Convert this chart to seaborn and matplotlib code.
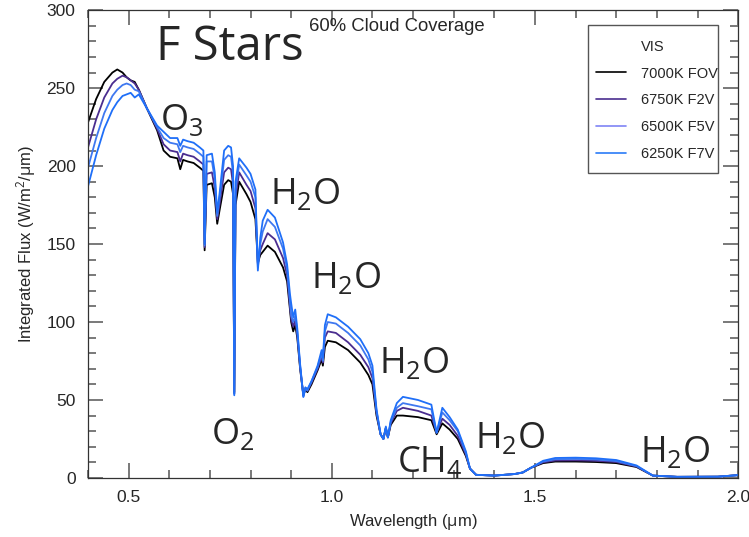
import numpy as np
import pandas as pd
import matplotlib
matplotlib.use("Agg")
import matplotlib.pyplot as plt
from matplotlib.lines import Line2D
from matplotlib.patches import Rectangle
from matplotlib.ticker import MultipleLocator
import seaborn as sns

# ---------------- data ----------------
wavelength = [0.400, 0.420, 0.440, 0.460, 0.472, 0.485, 0.495, 0.505, 0.515, 0.525,
              0.545, 0.570, 0.586, 0.602, 0.620, 0.627, 0.634, 0.645, 0.660, 0.675,
              0.684, 0.687, 0.692, 0.705, 0.712, 0.718, 0.724, 0.735, 0.745, 0.752,
              0.757, 0.760, 0.763, 0.772, 0.790, 0.800, 0.812, 0.818, 0.824, 0.830,
              0.842, 0.860, 0.880, 0.890, 0.897, 0.900, 0.905, 0.910, 0.915, 0.922,
              0.930, 0.935, 0.940, 0.950, 0.965, 0.975, 0.978, 0.983, 0.990, 1.010,
              1.040, 1.070, 1.090, 1.100, 1.110, 1.120, 1.127, 1.133, 1.138, 1.145,
              1.160, 1.175, 1.212, 1.245, 1.258, 1.272, 1.290, 1.310, 1.330, 1.340,
              1.355, 1.400, 1.450, 1.470, 1.490, 1.520, 1.550, 1.600, 1.650, 1.700,
              1.750, 1.790, 1.850, 1.950, 2.000]

flux_7000K = [228, 243, 254, 260, 262, 260, 257, 255, 254, 249,
              237, 223, 210, 206, 205, 198, 204, 203, 202, 199,
              197, 146, 188, 189, 180, 163, 172, 188, 191, 190,
              182, 55, 175, 190, 182, 177, 166, 138, 143, 145,
              149, 145, 135, 126, 108, 100, 94, 98, 90, 70,
              53, 57, 55, 60, 69, 76, 72, 84, 88, 87,
              82, 74, 66, 60, 40, 28, 25, 32, 26, 34,
              40, 40, 39, 37, 28, 35, 31, 25, 14, 6,
              2, 1.5, 2.5, 3.5, 6.5, 9.5, 10.5, 10.5, 10.2, 9.5,
              7, 1.5, 0.7, 0.8, 1.8]

flux_6750K = [212, 230, 244, 253, 256, 258, 257, 255, 253, 249,
              237, 224, 214, 210, 209, 203, 208, 207, 206, 203,
              201, 148, 195, 196, 186, 166, 176, 196, 199, 198,
              188, 54, 180, 196, 188, 184, 173, 137, 146, 150,
              157, 153, 141, 130, 110, 102, 97, 101, 92, 71,
              53, 57, 56, 61, 70, 78, 74, 90, 94, 93,
              87, 79, 71, 64, 42, 28, 25, 32, 26, 35,
              43, 45, 43, 40, 29, 38, 34, 27, 15, 6,
              2, 1.5, 2.5, 3.5, 6.5, 10, 11.2, 11.3, 11, 10.2,
              7.3, 1.5, 0.7, 0.8, 1.8]

flux_6500K = [199, 218, 234, 245, 249, 252, 253, 252, 249, 248,
              237, 225, 218, 215, 214, 209, 213, 212, 211, 208,
              206, 149, 203, 203, 192, 168, 180, 204, 207, 206,
              195, 54, 185, 201, 194, 190, 180, 135, 150, 158,
              166, 161, 147, 134, 113, 104, 100, 104, 94, 72,
              52, 58, 56, 62, 71, 80, 75, 94, 100, 99,
              93, 85, 76, 68, 43, 28, 25, 32, 26, 36,
              45, 48, 46, 44, 29, 42, 37, 30, 16, 6,
              2, 1.5, 2.5, 3.5, 6.5, 10.5, 12, 12.2, 11.8, 10.8,
              7.6, 1.5, 0.7, 0.8, 1.8]

flux_6250K = [187, 207, 224, 236, 241, 245, 246, 247, 244, 246,
              237, 226, 222, 218, 218, 213, 217, 216, 215, 212,
              210, 150, 207, 208, 196, 170, 183, 210, 213, 212,
              200, 53, 190, 205, 199, 195, 185, 133, 154, 165,
              172, 167, 151, 137, 118, 112, 103, 108, 96, 73,
              52, 58, 57, 62, 72, 82, 77, 98, 105, 103,
              97, 89, 80, 72, 44, 28, 25, 33, 26, 37,
              48, 52, 50, 47, 29, 45, 39, 31, 17, 6,
              2, 1.5, 2.5, 3.5, 6.5, 11, 12.8, 13, 12.6, 11.5,
              8, 1.5, 0.7, 0.8, 1.8]

series_labels = ["7000K FOV", "6750K F2V", "6500K F5V", "6250K F7V"]
series_values = [flux_7000K, flux_6750K, flux_6500K, flux_6250K]
series_colors = ["#000000", "#4a2d8f", "#7f84f5", "#2a7bf7"]
plot_colors = ["#000000", "#4a2d8f", "#3f78f0", "#1f6ff8"]

x_ticks = [0.5, 1.0, 1.5, 2.0]
y_ticks = [0, 50, 100, 150, 200, 250, 300]

annotations = [
    ("O$_\\mathrm{3}$", 0.577, 223),
    ("H$_\\mathrm{2}$O", 0.848, 176),
    ("H$_\\mathrm{2}$O", 0.949, 122),
    ("H$_\\mathrm{2}$O", 1.116, 67),
    ("H$_\\mathrm{2}$O", 1.353, 19),
    ("H$_\\mathrm{2}$O", 1.759, 10),
    ("O$_\\mathrm{2}$", 0.703, 22),
    ("CH$_\\mathrm{4}$", 1.161, 4),
]

# ---------------- build long-form table ----------------
frames = []
for lab, vals in zip(series_labels, series_values):
    frames.append(pd.DataFrame({"wavelength": wavelength, "flux": vals, "star": lab}))
df = pd.concat(frames, ignore_index=True)

sns.set_style("white")
plt.rcParams["font.family"] = ["Liberation Sans", "DejaVu Sans"]
plt.rcParams["mathtext.fontset"] = "custom"
plt.rcParams["mathtext.rm"] = "Open Sans"
plt.rcParams["mathtext.it"] = "Open Sans"
plt.rcParams["mathtext.default"] = "rm"

fig = plt.figure(figsize=(7.49, 5.37), dpi=100)
ax = fig.add_axes([0.1175, 0.110, 0.868, 0.871])

sns.lineplot(data=df, x="wavelength", y="flux", hue="star",
             hue_order=series_labels, palette=plot_colors,
             estimator=None, sort=False, linewidth=1.3, legend=False, ax=ax)

ax.set_xlim(0.4, 2.0)
ax.set_ylim(0, 300)
ax.set_xticks(x_ticks)
ax.set_xticklabels([f"{v:.1f}" for v in x_ticks])
ax.set_yticks(y_ticks)
ax.xaxis.set_minor_locator(MultipleLocator(0.1))
ax.yaxis.set_minor_locator(MultipleLocator(10))
ax.tick_params(which="both", direction="in", top=True, right=True,
               bottom=True, left=True, color="#555555", width=1.1)
ax.tick_params(which="major", length=11, labelsize=12.5, pad=9)
ax.tick_params(which="minor", length=6)
for s in ax.spines.values():
    s.set_color("#333333")
    s.set_linewidth(0.9)

ax.set_xlabel("Wavelength ($\\mu$m)", fontsize=12, labelpad=5)
ax.set_ylabel("Integrated Flux (W/m$^2$/$\\mu$m)", fontsize=12, labelpad=6)

# titles
fig.text(0.208, 0.912, "F Stars", fontsize=34, family="Open Sans", va="center", ha="left")
fig.text(0.412, 0.950, "60% Cloud Coverage", fontsize=13.3, va="center", ha="left")

for txt, xv, yv in annotations:
    ax.text(xv, yv, txt, fontsize=26, family="Open Sans", ha="left", va="baseline")

# legend (frame drawn separately, as in the reference)
ax.add_patch(Rectangle((0.769, 0.652), 0.200, 0.316, transform=ax.transAxes,
                       facecolor="white", edgecolor="#555555", linewidth=1.0, zorder=4))
handles = [Line2D([], [], color="none")]
for c in series_colors:
    handles.append(Line2D([], [], color=c, linewidth=1.2))
labels = ["VIS"] + series_labels
leg = ax.legend(handles, labels, loc="upper left", bbox_to_anchor=(0.781, 0.937),
                fontsize=10.5, frameon=False, handlelength=2.05,
                labelspacing=0.88, borderpad=0, handletextpad=1.05, borderaxespad=0)
leg.set_zorder(5)

fig.savefig("out.png", dpi=100)
